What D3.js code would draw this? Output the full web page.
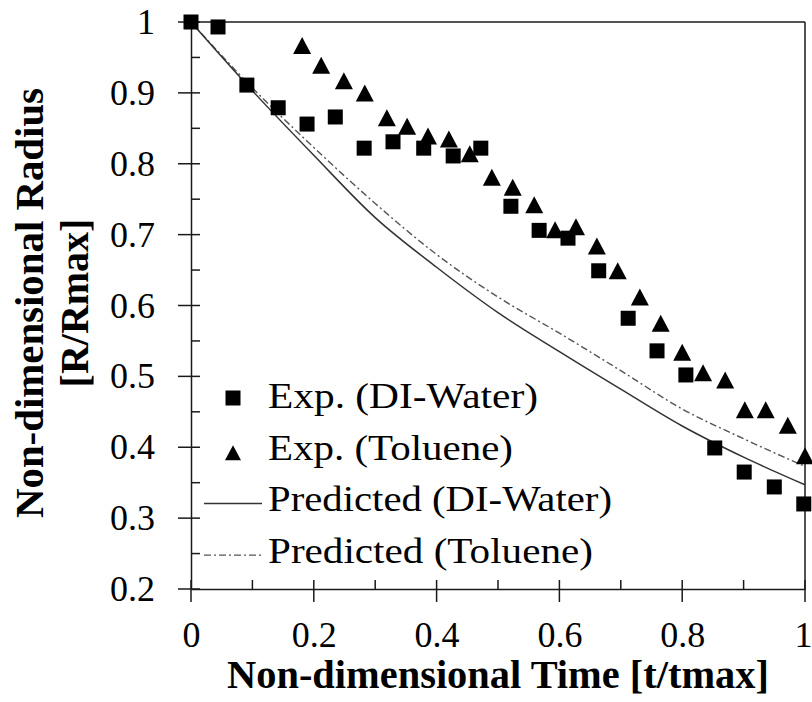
<!DOCTYPE html>
<html>
<head>
<meta charset="utf-8">
<script src="https://cdn.jsdelivr.net/npm/d3@7"></script>
<style>
  html, body { margin: 0; padding: 0; background: #fff; }
  svg { display: block; }
  text { font-family: "Liberation Serif", "Times New Roman", serif; fill: #000; }
</style>
</head>
<body>
<script>
// ---- Data ----
const waterT = [0, 0.044, 0.091, 0.142, 0.189, 0.235, 0.282, 0.329, 0.379, 0.427, 0.472, 0.521, 0.567, 0.614, 0.664, 0.712, 0.759, 0.806, 0.853, 0.901, 0.950, 0.998];
const waterR = [1.000, 0.993, 0.911, 0.879, 0.856, 0.866, 0.822, 0.831, 0.822, 0.811, 0.822, 0.740, 0.706, 0.695, 0.649, 0.582, 0.536, 0.502, 0.399, 0.365, 0.344, 0.320];

const tolueneT = [0.181, 0.212, 0.249, 0.283, 0.319, 0.352, 0.386, 0.420, 0.454, 0.490, 0.524, 0.559, 0.593, 0.627, 0.661, 0.695, 0.731, 0.765, 0.800, 0.834, 0.870, 0.902, 0.936, 0.972, 1.000];
const tolueneR = [0.967, 0.939, 0.917, 0.900, 0.865, 0.853, 0.839, 0.835, 0.814, 0.781, 0.767, 0.742, 0.707, 0.711, 0.684, 0.649, 0.612, 0.575, 0.534, 0.505, 0.495, 0.453, 0.453, 0.431, 0.388];

const predT = [0, 0.1, 0.2, 0.3, 0.4, 0.5, 0.6, 0.7, 0.8, 0.9, 1.0];
const predWater = [1.000, 0.903, 0.812, 0.724, 0.654, 0.590, 0.535, 0.482, 0.430, 0.386, 0.347];
const predToluene = [1.000, 0.907, 0.823, 0.744, 0.672, 0.612, 0.561, 0.508, 0.454, 0.412, 0.373];

const xMajorTicks = [0, 0.2, 0.4, 0.6, 0.8, 1];
const xMinorTicks = [0.1, 0.3, 0.5, 0.7, 0.9];
const yMajorTicks = [0.2, 0.3, 0.4, 0.5, 0.6, 0.7, 0.8, 0.9, 1];
const yMinorTicks = [0.25, 0.35, 0.45, 0.55, 0.65, 0.75, 0.85, 0.95];
const xTickLabels = ["0", "0.2", "0.4", "0.6", "0.8", "1"];
const yTickLabels = ["0.2", "0.3", "0.4", "0.5", "0.6", "0.7", "0.8", "0.9", "1"];

const legendLabels = ["Exp. (DI-Water)", "Exp. (Toluene)", "Predicted (DI-Water)", "Predicted (Toluene)"];
const xTitle = "Non-dimensional Time [t/tmax]";
const yTitle = ["Non-dimensional Radius", "[R/Rmax]"];

// ---- Layout ----
const W = 812, H = 702;
const pLeft = 191, pRight = 805, pTop = 22, pBottom = 589;
const serif = "'Liberation Serif', 'Times New Roman', serif";
const legendTextWidths = [270, 245, 344, 325];

const svg = d3.select("body").append("svg").attr("width", W).attr("height", H);
svg.append("rect").attr("width", W).attr("height", H).attr("fill", "#fff");

const x = d3.scaleLinear().domain([0, 1]).range([pLeft, pRight]);
const y = d3.scaleLinear().domain([0.2, 1]).range([pBottom, pTop]);

const axisColor = "#1a1a1a";

// Frame (top and right lines)
svg.append("line").attr("x1", pLeft).attr("x2", pRight).attr("y1", pTop).attr("y2", pTop)
  .attr("stroke", axisColor).attr("stroke-width", 1.5);
svg.append("line").attr("x1", pRight).attr("x2", pRight).attr("y1", pTop).attr("y2", pBottom)
  .attr("stroke", axisColor).attr("stroke-width", 1.5);

// Y axis
const yAxis = svg.append("g").attr("transform", `translate(${pLeft},0)`)
  .call(d3.axisLeft(y).tickValues(yMajorTicks).tickSize(0).tickFormat((d, i) => yTickLabels[i]).tickPadding(36));
yAxis.select(".domain").attr("stroke", axisColor).attr("stroke-width", 1.5);
yAxis.selectAll(".tick text").style("font-family", serif).style("font-size", "36px").attr("fill", "#000");
svg.append("g").selectAll("line").data(yMajorTicks).join("line")
  .attr("x1", pLeft - 13).attr("x2", pLeft + 9)
  .attr("y1", d => y(d)).attr("y2", d => y(d))
  .attr("stroke", axisColor).attr("stroke-width", 1.5);
svg.append("g").selectAll("line").data(yMinorTicks).join("line")
  .attr("x1", pLeft).attr("x2", pLeft + 9)
  .attr("y1", d => y(d)).attr("y2", d => y(d))
  .attr("stroke", axisColor).attr("stroke-width", 1.5);

// X axis
const xAxis = svg.append("g").attr("transform", `translate(0,${pBottom})`)
  .call(d3.axisBottom(x).tickValues(xMajorTicks).tickSize(0).tickFormat((d, i) => xTickLabels[i]).tickPadding(33));
xAxis.select(".domain").attr("stroke", axisColor).attr("stroke-width", 1.5);
xAxis.selectAll(".tick text").style("font-family", serif).style("font-size", "36px").attr("fill", "#000")
  .attr("dy", null).attr("y", 58)
  .attr("dx", d => d === 1 ? -2 : 0);
svg.append("g").selectAll("line").data(xMajorTicks).join("line")
  .attr("x1", d => x(d)).attr("x2", d => x(d))
  .attr("y1", pBottom - 9).attr("y2", pBottom + 13)
  .attr("stroke", axisColor).attr("stroke-width", 1.5);
svg.append("g").selectAll("line").data(xMinorTicks).join("line")
  .attr("x1", d => x(d)).attr("x2", d => x(d))
  .attr("y1", pBottom - 9).attr("y2", pBottom)
  .attr("stroke", axisColor).attr("stroke-width", 1.5);

// Predicted lines
const line = d3.line().curve(d3.curveMonotoneX).x(d => x(d[0])).y(d => y(d[1]));
svg.append("path").datum(predT.map((t, i) => [t, predToluene[i]]))
  .attr("d", line).attr("fill", "none").attr("stroke", "#555").attr("stroke-width", 1.4)
  .attr("stroke-dasharray", "7,3,2,3");
svg.append("path").datum(predT.map((t, i) => [t, predWater[i]]))
  .attr("d", line).attr("fill", "none").attr("stroke", "#333").attr("stroke-width", 1.5);

// Markers
const sq = 15, triW = 18, triH = 17;
function triPath(w, h) { return `M0,${-h/2}L${w/2},${h/2}L${-w/2},${h/2}Z`; }

svg.append("g").selectAll("path").data(tolueneT.map((t, i) => [t, tolueneR[i]])).join("path")
  .attr("d", triPath(triW, triH))
  .attr("transform", d => `translate(${x(d[0])},${y(d[1])})`)
  .attr("fill", "#000");
svg.append("g").selectAll("rect").data(waterT.map((t, i) => [t, waterR[i]])).join("rect")
  .attr("x", d => x(d[0]) - sq/2).attr("y", d => y(d[1]) - sq/2)
  .attr("width", sq).attr("height", sq).attr("fill", "#000");

// Legend
const legX = 268, legY0 = 408, legDY = 51.7;
const leg = svg.append("g");
leg.selectAll("text").data(legendLabels).join("text")
  .attr("x", legX).attr("y", (d, i) => legY0 + i * legDY)
  .attr("font-size", 36)
  .attr("textLength", (d, i) => legendTextWidths[i]).attr("lengthAdjust", "spacingAndGlyphs")
  .text(d => d);
leg.append("rect").attr("x", 233 - 7.5).attr("y", legY0 - 10 - 7.5).attr("width", 15).attr("height", 15).attr("fill", "#000");
leg.append("path").attr("d", triPath(16, 15)).attr("transform", `translate(233,${legY0 + legDY - 7})`).attr("fill", "#000");
leg.append("line").attr("x1", 204).attr("x2", 262).attr("y1", legY0 + 2*legDY - 8).attr("y2", legY0 + 2*legDY - 8)
  .attr("stroke", "#333").attr("stroke-width", 1.5);
leg.append("line").attr("x1", 204).attr("x2", 262).attr("y1", legY0 + 3*legDY - 8).attr("y2", legY0 + 3*legDY - 8)
  .attr("stroke", "#555").attr("stroke-width", 1.4).attr("stroke-dasharray", "7,3,2,3");

// Axis titles
svg.append("text").attr("x", (pLeft + pRight) / 2).attr("y", 688)
  .attr("text-anchor", "middle").attr("font-size", 39).attr("font-weight", "bold")
  .attr("textLength", 542).attr("lengthAdjust", "spacingAndGlyphs").text(xTitle);
const yt = svg.append("text").attr("transform", "translate(43,303) rotate(-90)")
  .attr("text-anchor", "middle").attr("font-size", 40).attr("font-weight", "bold");
yt.append("tspan").attr("x", 0).attr("y", 0)
  .attr("textLength", 430).attr("lengthAdjust", "spacingAndGlyphs").text(yTitle[0]);
yt.append("tspan").attr("x", 0).attr("y", 45).text(yTitle[1]);
</script>
</body>
</html>
